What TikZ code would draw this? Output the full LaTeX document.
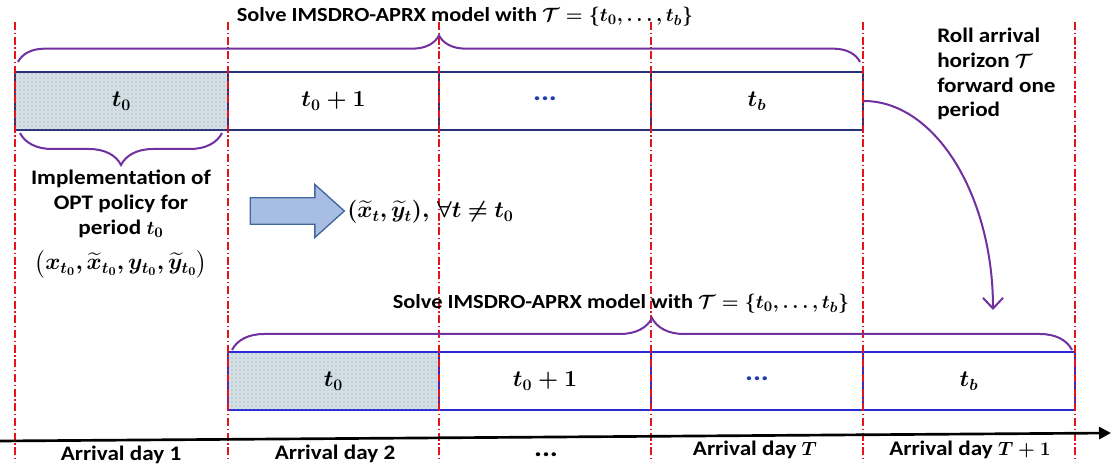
\documentclass[tikz,border=0pt]{standalone}
\usepackage{amsmath}
\usepackage[no-math]{fontspec}
\usepackage{bm}
\setmainfont{Carlito}[FakeStretch=1.12]
\usetikzlibrary{arrows.meta,decorations.pathreplacing,shapes.arrows,patterns}
\definecolor{bracepurple}{HTML}{7030A0}
\definecolor{gridred}{HTML}{E3141B}
\definecolor{topnavy}{HTML}{28307A}
\definecolor{botblue}{HTML}{2B2BD6}
\definecolor{shadefill}{HTML}{D3DFE5}
\definecolor{shadedot}{HTML}{8AA5B5}
\definecolor{arrfill}{HTML}{A7BDE1}
\definecolor{arrline}{HTML}{43669E}
\definecolor{dotblue}{HTML}{1F3FA8}
\begin{document}
\begin{tikzpicture}[x=0.75pt,y=-0.75pt,
  lbl/.style={font=\fontsize{15.5}{18.5}\selectfont\bfseries\boldmath, inner sep=0pt},
  ttl/.style={font=\fontsize{15}{18}\selectfont\bfseries\boldmath, inner sep=0pt},
  boxmath/.style={font=\fontsize{18.5}{20}\selectfont\bfseries\boldmath},
  topbox/.style={draw=topnavy, line width=1.2pt, inner sep=0pt, minimum height=43.5pt, boxmath},
  botbox/.style={draw=botblue, line width=1.2pt, inner sep=0pt, minimum height=43.5pt, boxmath},
  shadedbox/.style={fill=shadefill, postaction={pattern=dots, pattern color=shadedot}},
  gridline/.style={draw=gridred, line width=1.1pt, dash pattern=on 6pt off 2pt on 1pt off 2pt},
  bracepath/.style={draw=bracepurple, line width=1.5pt, decorate, decoration={brace, amplitude=#1}},
  timeaxis/.style={draw=black, line width=2pt, -{Triangle[length=9pt,width=9pt]}},
  rollarrow/.style={draw=bracepurple, line width=1.5pt, -{Straight Barb[length=8pt,width=15pt,line width=1.5pt]}},
  blockarrow/.style={single arrow, draw=arrline, fill=arrfill, line width=1pt,
    inner xsep=0pt, inner ysep=9.4pt, single arrow head extend=10pt, single arrow tip angle=84,
    single arrow head indent=0pt, minimum height=70.5pt},
  bigdots/.style={font=\fontsize{20}{20}\selectfont\bfseries, inner sep=0pt}
]
\useasboundingbox (0,0) rectangle (1111,466);

% top row of periods
\node[topbox, shadedbox, minimum width=159.75pt] (a0) at (121.5,101) {$\bm{t_0}$};
\node[topbox, minimum width=158.25pt] (a1) at (333.5,101) {$\bm{t_0+1}$};
\node[topbox, minimum width=159pt] (a2) at (545,101) {};
\node[bigdots, text=dotblue] (a2dots) at (545,99) {...};
\node[topbox, minimum width=159pt] (a3) at (757,101) {$\bm{t_b}$};

% bottom row of periods
\node[botbox, shadedbox, minimum width=158.25pt] (b0) at (333.5,381) {$\bm{t_0}$};
\node[botbox, minimum width=159pt] (b1) at (545,381) {$\bm{t_0+1}$};
\node[botbox, minimum width=159pt] (b2) at (757,381) {};
\node[bigdots, text=dotblue] (b2dots) at (757,379) {...};
\node[botbox, minimum width=159pt] (b3) at (969,381) {$\bm{t_b}$};

% vertical day separators
\foreach \x in {15,228,439,651,863,1075}
  \draw[gridline] (\x,22) -- (\x,462);

% braces
\draw[bracepath=20pt] (18,62) -- (860,62);
\draw[bracepath=24pt] (232,350) -- (1072,350);
\draw[bracepath=24pt] (222,133) -- (20,133);

% titles
\node[ttl] (title1) at (465,17) {Solve IMSDRO-APRX model with $\bm{\mathcal{T}=\{t_0,\ldots,t_b\}}$};
\node[ttl] (title2) at (621,304) {Solve IMSDRO-APRX model with $\bm{\mathcal{T}=\{t_0,\ldots,t_b\}}$};

% implementation text
\node[lbl, align=center, anchor=north] (impl) at (121,170)
  {Implementation of\\OPT policy for\\period $\bm{t_0}$};
\node[lbl, font=\fontsize{18}{20}\selectfont] (implmath) at (121,264)
  {$\bm{\big(x_{t_0},\widetilde{x}_{t_0},y_{t_0},\widetilde{y}_{t_0}\big)}$};

% block arrow and result
\node[blockarrow] (barrow) at (290,211) {};
\node[lbl, anchor=west, font=\fontsize{16.5}{18}\selectfont] (res) at (347,212)
  {$\bm{(\widetilde{x}_t,\widetilde{y}_t),\,\forall t\neq t_0}$};

% roll text and arrow
\node[lbl, align=left, anchor=north west] (roll) at (937,28)
  {Roll arrival\\horizon $\bm{\mathcal{T}}$\\forward one\\period};
\coordinate (rollend) at (993,310);
\draw[rollarrow] (a3.east) .. controls (935,101) and (993,195) .. (rollend);

% time axis
\coordinate (axL) at (0,441);
\coordinate (axR) at (1111,433);
\draw[timeaxis] (axL) -- (axR);

% day labels
\node[lbl] (d1) at (121,455) {Arrival day 1};
\node[lbl] (d2) at (335,454) {Arrival day 2};
\node[bigdots] (dd) at (546,455) {...};
\node[lbl] (dT) at (755,450) {Arrival day $\bm{T}$};
\node[lbl] (dT1) at (970,450) {Arrival day $\bm{T+1}$};
\end{tikzpicture}
\end{document}
